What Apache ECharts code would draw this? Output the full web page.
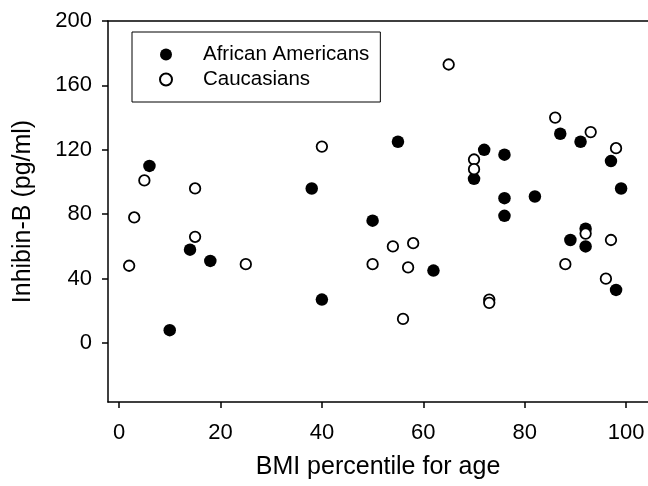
<!DOCTYPE html>
<html>
<head>
<meta charset="utf-8">
<script src="https://cdn.jsdelivr.net/npm/echarts@6/dist/echarts.min.js"></script>
<style>
  html, body { margin: 0; padding: 0; background: #fff; }
  #chart { width: 648px; height: 486px; }
</style>
</head>
<body>
<div id="chart"></div>
<script>
// BMI percentile / Inhibin-B values
var africanX = [6, 10, 14, 18, 38, 40, 50, 55, 62, 70, 72, 76, 76, 76, 82, 87, 89, 91, 92, 92, 97, 98, 99];
var africanY = [110, 8, 58, 51, 96, 27, 76, 125, 45, 102, 120, 117, 90, 79, 91, 130, 64, 125, 71, 60, 113, 33, 96];
var caucX = [2, 3, 5, 15, 15, 25, 40, 50, 54, 56, 57, 58, 65, 70, 70, 73, 73, 86, 88, 92, 93, 96, 97, 98];
var caucY = [48, 78, 101, 96, 66, 49, 122, 49, 60, 15, 47, 62, 173, 114, 108, 27, 25, 140, 49, 68, 131, 40, 64, 121];
var xTicks = [0, 20, 40, 60, 80, 100];
var yTicks = [0, 40, 80, 120, 160, 200];
var seriesNames = ['African Americans', 'Caucasians'];

var font = "'Liberation Sans', Arial, sans-serif";

function pairs(xs, ys) {
  var out = [];
  for (var i = 0; i < xs.length; i++) out.push([xs[i], ys[i]]);
  return out;
}

var chart = echarts.init(document.getElementById('chart'));
var option = {
  animation: false,
  backgroundColor: '#fff',
  grid: { left: 108, right: 0, top: 21, bottom: 84 },
  legend: {
    orient: 'vertical',
    left: 132,
    top: 32,
    padding: [12, 11, 12, 27],
    itemGap: 4,
    itemWidth: 14,
    itemHeight: 12,
    borderColor: '#000',
    borderWidth: 1,
    icon: 'circle',
    textStyle: { fontSize: 20.5, color: '#000', fontFamily: font, padding: [0, 0, 0, 25] },
    data: seriesNames
  },
  xAxis: [{
    type: 'value',
    min: -2.17,
    max: 104.3,
    name: 'BMI percentile for age',
    nameLocation: 'middle',
    nameGap: 53,
    nameTextStyle: { fontSize: 25, color: '#000', fontFamily: font },
    splitLine: { show: false },
    axisLine: { onZero: false, lineStyle: { color: '#000', width: 1.5 } },
    axisTick: { customValues: xTicks, length: 6, lineStyle: { color: '#000', width: 1.5 } },
    axisLabel: { customValues: xTicks, fontSize: 22, color: '#000', fontFamily: font, margin: 20 }
  }, {
    type: 'value',
    position: 'top',
    min: -2.17,
    max: 104.3,
    splitLine: { show: false },
    axisLine: { onZero: false, lineStyle: { color: '#000', width: 1.5 } },
    axisTick: { show: false },
    axisLabel: { show: false }
  }],
  yAxis: {
    type: 'value',
    min: -36.6,
    max: 200,
    name: 'Inhibin-B (pg/ml)',
    nameLocation: 'middle',
    nameGap: 72,
    nameTextStyle: { fontSize: 25, color: '#000', fontFamily: font },
    splitLine: { show: false },
    axisLine: { show: true, onZero: false, lineStyle: { color: '#000', width: 1.5 } },
    axisTick: { show: true, customValues: yTicks, length: 6, lineStyle: { color: '#000', width: 1.5 } },
    axisLabel: { customValues: yTicks, fontSize: 22, color: '#000', fontFamily: font, margin: 16 }
  },
  series: [{
    name: seriesNames[0],
    type: 'scatter',
    symbol: 'circle',
    symbolSize: 12.5,
    itemStyle: { color: '#000', opacity: 1 },
    data: pairs(africanX, africanY)
  }, {
    name: seriesNames[1],
    type: 'scatter',
    symbol: 'circle',
    symbolSize: 10.5,
    itemStyle: { color: '#fff', borderColor: '#000', borderWidth: 1.8, opacity: 1 },
    data: pairs(caucX, caucY)
  }]
};
chart.setOption(option);
</script>
</body>
</html>
